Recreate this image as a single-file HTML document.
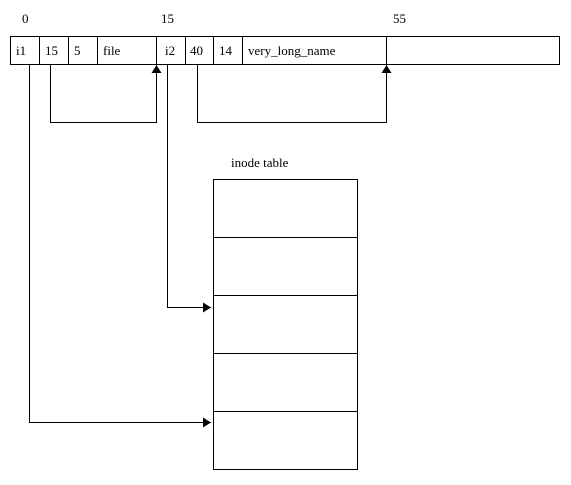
<!DOCTYPE html>
<html><head><meta charset="utf-8"><style>body{margin:0;background:#fff}svg{display:block}text{font-family:"Liberation Serif",serif;font-size:13px;fill:#000}</style></head>
<body>
<svg width="571" height="485">
<defs><marker id="ah" markerWidth="8" markerHeight="10" refX="8" refY="5" orient="auto" markerUnits="userSpaceOnUse"><path d="M0,0 L8,5 L0,10 z" fill="#000"/></marker></defs>
<g>
<text x="22" y="23">0</text><text x="161" y="23">15</text><text x="393" y="23">55</text></g>
<g fill="none" stroke="#000" stroke-width="1">
<rect x="10.5" y="36.5" width="549" height="28"/>
<line x1="39.5" y1="36" x2="39.5" y2="64"/><line x1="68.5" y1="36" x2="68.5" y2="64"/>
<line x1="97.5" y1="36" x2="97.5" y2="64"/><line x1="156.5" y1="36" x2="156.5" y2="64"/>
<line x1="185.5" y1="36" x2="185.5" y2="64"/><line x1="213.5" y1="36" x2="213.5" y2="64"/>
<line x1="242.5" y1="36" x2="242.5" y2="64"/><line x1="386.5" y1="36" x2="386.5" y2="64"/>
</g>
<g>
<text x="16" y="55">i1</text><text x="45" y="55">15</text><text x="74" y="55">5</text><text x="103" y="55">file</text>
<text x="165" y="55">i2</text><text x="190" y="55">40</text><text x="219" y="55">14</text><text x="248" y="55">very_long_name</text></g>
<g fill="none" stroke="#000" stroke-width="1">
<polyline points="50.5,64 50.5,122.5 156.5,122.5 156.5,65" marker-end="url(#ah)"/>
<polyline points="197.5,64 197.5,122.5 386.5,122.5 386.5,65" marker-end="url(#ah)"/>
<polyline points="29.5,64 29.5,422.5 211,422.5" marker-end="url(#ah)"/>
<polyline points="167.5,64 167.5,307.5 211,307.5" marker-end="url(#ah)"/>
</g>
<text x="231" y="167">inode table</text>
<g fill="none" stroke="#000">
<rect x="213.5" y="179.5" width="144" height="290"/>
<line x1="213" y1="237.5" x2="357" y2="237.5"/><line x1="213" y1="295.5" x2="357" y2="295.5"/>
<line x1="213" y1="353.5" x2="357" y2="353.5"/><line x1="213" y1="411.5" x2="357" y2="411.5"/>
</g>
</svg>
</body></html>
